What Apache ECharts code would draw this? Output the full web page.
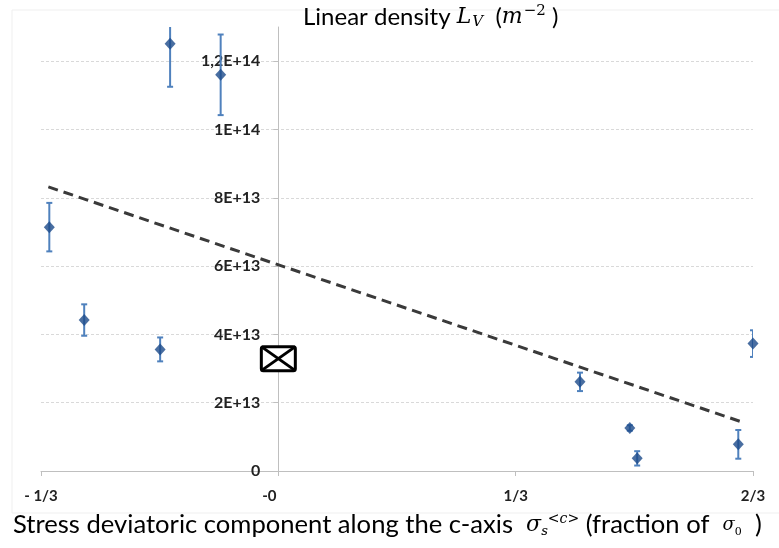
<!DOCTYPE html>
<html>
<head>
<meta charset="utf-8">
<script src="https://cdn.jsdelivr.net/npm/echarts@6/dist/echarts.min.js"></script>
<style>
  html, body { margin: 0; padding: 0; background: #fff; }
  #show { width: 779px; height: 548px; }
</style>
</head>
<body>
<div id="show"></div>
<script>
    // x positions in units of sigma0/3 (so the axis runs -1 .. 2)
    var stressThirds = [-0.965, -0.818, -0.498, -0.456, -0.243, 1.271, 1.481, 1.512, 1.938, 2.0];
    var density = [7.14e13, 4.42e13, 3.56e13, 1.251e14, 1.16e14, 2.61e13, 1.26e13, 0.37e13, 0.78e13, 3.73e13];
    var densityErr = [0.71e13, 0.46e13, 0.35e13, 1.26e13, 1.18e13, 0.27e13, 0.08e13, 0.21e13, 0.42e13, 0.39e13];
    var refX = [0];
    var refDensity = [3.29e13];
    var trendX = [-0.969, 1.968];
    var trendY = [8.32e13, 1.40e13];
    var xTickValues = [-1, 0, 1, 2];
    var xTickLabels = ['- 1/3', '-0', '1/3', '2/3'];

    var myChart = echarts.init(document.getElementById('show'));

    var points = [], bars = [], trend = [], refs = [];
    for (var i = 0; i < stressThirds.length; i++) {
        points.push([stressThirds[i], density[i]]);
        bars.push([stressThirds[i], density[i] - densityErr[i], density[i] + densityErr[i]]);
    }
    for (var j = 0; j < trendX.length; j++) trend.push([trendX[j], trendY[j]]);
    for (var k = 0; k < refX.length; k++) refs.push([refX[k], refDensity[k]]);

    // grid box, the y axis is moved to x = 0
    var gLeft = 41, gRight = 26;
    var gWidth = 779 - gLeft - gRight;
    var yAxisShift = gWidth * (0 - xTickValues[0]) / (xTickValues[3] - xTickValues[0]);

    function sciLabel(v) {
        if (v === 0) return '0';
        var e = Math.floor(Math.log10(v) + 1e-9);
        var m = Math.round(v / Math.pow(10, e) * 10) / 10;
        return String(m).replace('.', ',') + 'E+' + e;
    }

    function errorBar(params, api) {
        var hi = api.coord([api.value(0), api.value(2)]);
        var lo = api.coord([api.value(0), api.value(1)]);
        var st = { stroke: '#4f81bd', lineWidth: 2 };
        return {
            type: 'group',
            children: [
                { type: 'line', shape: { x1: hi[0], y1: hi[1], x2: lo[0], y2: lo[1] }, style: st },
                { type: 'line', shape: { x1: hi[0] - 3, y1: hi[1], x2: hi[0] + 3, y2: hi[1] }, style: st },
                { type: 'line', shape: { x1: lo[0] - 3, y1: lo[1], x2: lo[0] + 3, y2: lo[1] }, style: st }
            ]
        };
    }

    function crossBox(params, api) {
        var c = api.coord([api.value(0), api.value(1)]);
        var w = 34, h = 24;
        var x0 = c[0] - w / 2, y0 = c[1] - h / 2;
        var st = { stroke: '#000', lineWidth: 3, fill: null };
        return {
            type: 'group',
            children: [
                { type: 'rect', shape: { x: x0, y: y0, width: w, height: h, r: 2 }, style: { fill: '#fff', stroke: '#000', lineWidth: 3 } },
                { type: 'line', shape: { x1: x0, y1: y0, x2: x0 + w, y2: y0 + h }, style: st },
                { type: 'line', shape: { x1: x0 + w, y1: y0, x2: x0, y2: y0 + h }, style: st }
            ]
        };
    }

    var option = {
        backgroundColor: '#fff',
        animation: false,
        textStyle: { fontFamily: 'Lato' },
        graphic: [{
            type: 'rect',
            shape: { x: 12, y: 10, width: 780, height: 503 },
            style: { fill: null, stroke: '#efefef', lineWidth: 1 },
            silent: true,
            z: -1
        }, {
            type: 'text',
            left: 303,
            top: 4,
            style: {
                text: '{a|Linear density }{l|L}{v|V}{a|  (}{m|m}{s|−2}{a| )}',
                rich: {
                    a: { fontFamily: 'Lato', fontWeight: 'normal', fontSize: 24, color: '#2b2b2b' },
                    l: { fontFamily: 'DejaVu Serif', fontStyle: 'italic', fontWeight: 'normal', fontSize: 22, color: '#4a5577' },
                    v: { fontFamily: 'DejaVu Serif', fontStyle: 'italic', fontWeight: 'normal', fontSize: 15, color: '#4a5577', verticalAlign: 'bottom', padding: [7, 0, 0, 1] },
                    m: { fontFamily: 'DejaVu Serif', fontStyle: 'italic', fontWeight: 'normal', fontSize: 22, color: '#333' },
                    s: { fontFamily: 'DejaVu Serif', fontWeight: 'normal', fontSize: 15, color: '#333', verticalAlign: 'top', padding: [0, 0, 11, 1] }
                }
            }
        }, {
            type: 'text',
            left: 13,
            top: 512,
            style: {
                text: '{a|Stress deviatoric component along the c-axis  }{g|σ}{sub|s}{sup|<c>}{a| (fraction of  }{h|σ}{sub0|0}{a|  )}',
                rich: {
                    a: { fontFamily: 'Lato', fontSize: 25.6, color: '#2b2b2b' },
                    g: { fontFamily: 'DejaVu Serif', fontStyle: 'italic', fontSize: 22, color: '#3f5f9f' },
                    sub: { fontFamily: 'DejaVu Serif', fontStyle: 'italic', fontSize: 13, color: '#3f5f9f', verticalAlign: 'bottom', padding: [9, 0, 0, 0] },
                    sup: { fontFamily: 'DejaVu Serif', fontStyle: 'italic', fontSize: 14, color: '#3f5f9f', verticalAlign: 'top', padding: [0, 0, 12, 0] },
                    h: { fontFamily: 'DejaVu Serif', fontStyle: 'italic', fontSize: 18, color: '#7a86a8' },
                    sub0: { fontFamily: 'DejaVu Serif', fontSize: 11, color: '#7a86a8', verticalAlign: 'bottom', padding: [7, 0, 0, 0] }
                }
            }
        }],
        grid: { left: gLeft, right: gRight, top: 27, bottom: 77, outerBoundsMode: 'none', containLabel: false },
        xAxis: {
            type: 'value',
            min: -1,
            max: 2,
            interval: 1,
            axisLine: { onZero: false, lineStyle: { color: '#bfbfbf', width: 1 } },
            axisTick: { show: true, length: 5, lineStyle: { color: '#bfbfbf' } },
            splitLine: { show: false },
            axisLabel: {
                margin: 18,
                fontFamily: 'Lato',
                fontWeight: 'bold',
                fontSize: 15,
                color: '#222',
                formatter: function (v) {
                    var idx = xTickValues.indexOf(Math.round(v));
                    if (idx < 0) return '';
                    return idx === 1 ? '{z|' + xTickLabels[idx] + '}' : xTickLabels[idx];
                },
                rich: { z: { fontFamily: 'Lato', fontWeight: 'bold', fontSize: 15, color: '#222', padding: [0, 18, 0, 0] } }
            }
        },
        yAxis: {
            type: 'value',
            min: 0,
            max: 1.3e14,
            interval: 2e13,
            offset: -yAxisShift,
            axisLine: { onZero: false, lineStyle: { color: '#bfbfbf', width: 1 } },
            axisTick: { show: true, length: 5, lineStyle: { color: '#bfbfbf' } },
            splitLine: { show: true, showMaxLine: false, showMinLine: false, lineStyle: { color: '#d9d9d9', type: [3, 2], width: 1 } },
            axisLabel: {
                margin: 18,
                showMaxLabel: false,
                fontFamily: 'Lato',
                fontWeight: 'bold',
                fontSize: 16,
                color: '#222',
                formatter: sciLabel
            }
        },
        series: [{
            type: 'line',
            data: trend,
            symbol: 'none',
            lineStyle: { color: '#3a3a3a', width: 3, type: [10, 6] },
            z: 2
        }, {
            type: 'custom',
            renderItem: errorBar,
            data: bars,
            clip: true,
            z: 3
        }, {
            type: 'scatter',
            data: points,
            symbol: 'diamond',
            symbolSize: [11, 12],
            itemStyle: { color: '#1c4a8a' },
            z: 4
        }, {
            type: 'custom',
            renderItem: crossBox,
            data: refs,
            z: 5
        }]
    };
    myChart.setOption(option);
</script>
</body>
</html>
